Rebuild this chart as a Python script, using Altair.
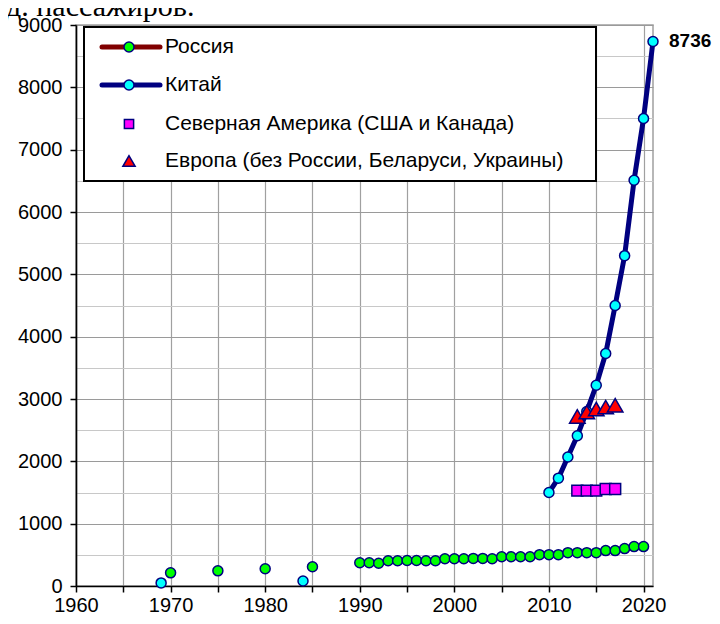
import altair as alt
import pandas as pd

# ---------------- data ----------------
title_text = "д. пассажиров."

russia_years = [1970, 1975, 1980, 1985,
                1990, 1991, 1992, 1993, 1994, 1995, 1996, 1997, 1998, 1999,
                2000, 2001, 2002, 2003, 2004, 2005, 2006, 2007, 2008, 2009,
                2010, 2011, 2012, 2013, 2014, 2015, 2016, 2017, 2018, 2019, 2020]
russia_values = [211, 243, 276, 308,
                 373, 373, 365, 405, 405, 410, 410, 405, 405, 438,
                 438, 438, 443, 443, 438, 470, 470, 470, 470, 503,
                 503, 503, 535, 535, 535, 535, 568, 568, 600, 632, 632]

china_early_years = [1969, 1984]
china_early_values = [50, 80]

china_years = [2010, 2011, 2012, 2013, 2014, 2015, 2016, 2017, 2018, 2019, 2020, 2021]
china_values = [1500, 1730, 2070, 2410, 2800, 3220, 3730, 4500, 5300, 6510, 7500, 8736]

na_years = [2013, 2014, 2015, 2016, 2017]
na_values = [1530, 1530, 1530, 1555, 1555]

eu_years = [2013, 2014, 2015, 2016, 2017]
eu_values = [2720, 2790, 2840, 2870, 2900]

series_names = ["Россия", "Китай",
                "Северная Америка (США и Канада)",
                "Европа (без России, Беларуси, Украины)"]

x_ticks = [1960, 1965, 1970, 1975, 1980, 1985, 1990, 1995, 2000, 2005, 2010, 2015, 2020]
y_ticks = [0, 500, 1000, 1500, 2000, 2500, 3000, 3500, 4000, 4500, 5000,
           5500, 6000, 6500, 7000, 7500, 8000, 8500, 9000]

# ---------------- styling ----------------
FONT = "Liberation Sans"
W, H = 577, 561
NAVY = "#000080"
GREEN = "#00ff00"
CYAN = "#00ffff"
MAGENTA = "#ff00ff"
RED = "#ff0000"
DARKRED = "#800000"
CIRCLE_SIZE = 100

russia_df = pd.DataFrame({"year": russia_years, "value": russia_values})
china_early_df = pd.DataFrame({"year": china_early_years, "value": china_early_values})
china_df = pd.DataFrame({"year": china_years, "value": china_values})
na_df = pd.DataFrame({"year": na_years, "value": na_values})
eu_df = pd.DataFrame({"year": eu_years, "value": eu_values})
last_df = pd.DataFrame({"year": [china_years[-1]], "value": [china_values[-1]],
                        "label": [str(china_values[-1])]})
one = pd.DataFrame({"k": [0]})

x_scale = alt.Scale(domain=[1960, 2021], nice=False, zero=False)
y_scale = alt.Scale(domain=[0, 9000], nice=False)

axis_common = dict(
    title=None, format="d", labelFont=FONT, labelFontSize=20, labelColor="black",
    domainColor="black", domainWidth=1.6, tickColor="black", tickWidth=1.5,
    tickSize=6, labelFlush=False, labelOverlap=False,
)

x_axis = alt.Axis(
    values=x_ticks,
    labelExpr="datum.value % 10 === 0 ? datum.label : ''",
    gridColor="#a0a0a0", gridWidth=1.2, labelPadding=3,
    **axis_common,
)
y_axis = alt.Axis(
    values=y_ticks,
    labelExpr="datum.value % 1000 === 0 ? datum.label : ''",
    tickOpacity={"condition": {"test": "datum.value % 1000 !== 0", "value": 0}, "value": 1},
    gridColor={"condition": {"test": "datum.value % 1000 === 0", "value": "#9a9a9a"}, "value": "#c8c8c8"},
    gridWidth=1.2, labelPadding=8,
    **axis_common,
)

X = alt.X("year:Q", scale=x_scale, axis=x_axis)
Y = alt.Y("value:Q", scale=y_scale, axis=y_axis)

# ---------------- data layers ----------------
def pts(df, shape, fill, size):
    return alt.Chart(df).mark_point(
        filled=True, shape=shape, size=size, fill=fill, stroke=NAVY,
        strokeWidth=1.5, opacity=1
    ).encode(x=X, y=Y)

russia_pts = pts(russia_df, "circle", GREEN, CIRCLE_SIZE)
china_early_pts = pts(china_early_df, "circle", CYAN, CIRCLE_SIZE)

china_line = alt.Chart(china_df).mark_line(
    color=NAVY, strokeWidth=5, strokeCap="round", strokeJoin="round"
).encode(x=X, y=Y)

china_pts = pts(china_df, "circle", CYAN, CIRCLE_SIZE)
na_pts = pts(na_df, "square", MAGENTA, 120)
eu_pts = pts(eu_df, "triangle-up", RED, 240)

last_label = alt.Chart(last_df).mark_text(
    align="left", baseline="middle", dx=16, font=FONT, fontSize=19,
    fontWeight="bold", color="black"
).encode(x=X, y=Y, text="label:N")

# ---------------- manual legend ----------------
legend_box = alt.Chart(one).mark_rect(
    fill="white", stroke="black", strokeWidth=2
).encode(x=alt.value(8), x2=alt.value(520), y=alt.value(2), y2=alt.value(156))

row_y = [22, 60, 99, 136]
legend_layers = [legend_box]
for yy, col in [(row_y[0], DARKRED), (row_y[1], NAVY)]:
    legend_layers.append(
        alt.Chart(one).mark_rule(color=col, strokeWidth=5, strokeCap="round")
        .encode(x=alt.value(26), x2=alt.value(84), y=alt.value(yy))
    )
sym_specs = [
    (row_y[0], "circle", GREEN, CIRCLE_SIZE),
    (row_y[1], "circle", CYAN, CIRCLE_SIZE),
    (row_y[2], "square", MAGENTA, 85),
    (row_y[3], "triangle-up", RED, 150),
]
for yy, shp, col, sz in sym_specs:
    legend_layers.append(
        alt.Chart(one).mark_point(filled=True, shape=shp, size=sz, fill=col,
                                  stroke=NAVY, strokeWidth=1.5, opacity=1)
        .encode(x=alt.value(53), y=alt.value(yy))
    )
for yy, name in zip(row_y, series_names):
    legend_layers.append(
        alt.Chart(one).mark_text(align="left", baseline="middle", font=FONT,
                                 fontSize=21, color="black")
        .encode(x=alt.value(89), y=alt.value(yy), text=alt.value(name))
    )

title_layer = alt.Chart(one).mark_text(
    align="left", baseline="alphabetic", font="Liberation Serif", fontSize=30,
    color="black"
).encode(x=alt.value(-70), y=alt.value(-9), text=alt.value(title_text))

chart = alt.layer(
    russia_pts, china_early_pts, china_line, china_pts, na_pts, eu_pts,
    last_label, *legend_layers, title_layer
).properties(
    width=W, height=H,
    autosize=alt.AutoSizeParams(type="none"),
    padding={"left": 68, "top": 17, "right": 59, "bottom": 28},
).configure_view(
    stroke="#a0a0a0", strokeWidth=1.5
)

chart.save("out.html", embed_options={"renderer": "svg", "actions": False})
